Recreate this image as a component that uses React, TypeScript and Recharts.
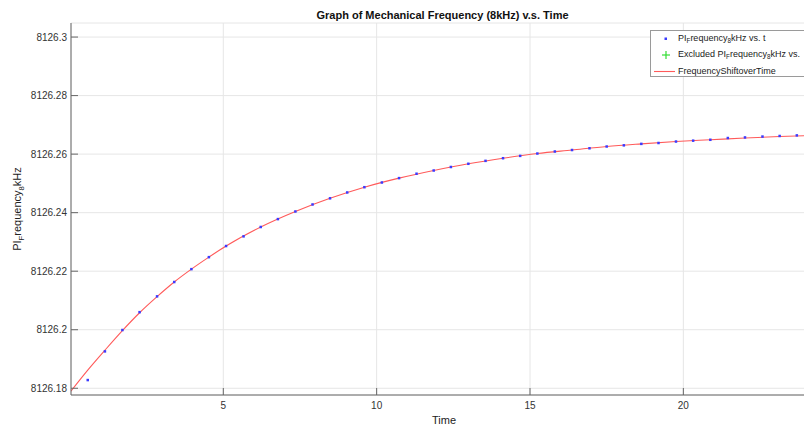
import React from 'react';
import { ComposedChart, Scatter, Line, XAxis, YAxis, CartesianGrid } from 'recharts';

const TIME = [
  0.58, 1.14, 1.71, 2.27, 2.84, 3.40, 3.96, 4.53, 5.09, 5.66, 6.22, 6.78, 7.35, 7.91,
  8.48, 9.04, 9.60, 10.17, 10.73, 11.30, 11.86, 12.42, 12.99, 13.55, 14.12, 14.68,
  15.24, 15.81, 16.37, 16.94, 17.50, 18.06, 18.63, 19.19, 19.76, 20.32, 20.88, 21.45,
  22.01, 22.58, 23.14, 23.70,
];
const PI_FREQ = [
  8126.1828, 8126.1926, 8126.1999, 8126.2060, 8126.2114, 8126.2163, 8126.2207, 8126.2248,
  8126.2286, 8126.2319, 8126.2351, 8126.2378, 8126.2404, 8126.2428, 8126.2449, 8126.2469,
  8126.2487, 8126.2503, 8126.2518, 8126.2533, 8126.2544, 8126.2556, 8126.2567, 8126.2577,
  8126.2586, 8126.2594, 8126.2602, 8126.2609, 8126.2614, 8126.2620, 8126.2626, 8126.2630,
  8126.2635, 8126.2638, 8126.2643, 8126.2646, 8126.2649, 8126.2655, 8126.2657, 8126.2660,
  8126.2662, 8126.2664,
];
const FIT_TIME = [
  0.03, 0.58, 1.14, 1.71, 2.27, 2.84, 3.40, 3.96, 4.53, 5.09, 6.22, 7.35, 8.48, 9.60,
  10.73, 11.86, 12.99, 14.12, 15.24, 16.37, 17.50, 18.63, 19.76, 20.88, 22.01, 23.14, 24.27,
];
const FIT_FREQ = [
  8126.1790, 8126.1862, 8126.1930, 8126.1997, 8126.2058, 8126.2113, 8126.2163, 8126.2207,
  8126.2248, 8126.2286, 8126.2351, 8126.2404, 8126.2449, 8126.2487, 8126.2518, 8126.2544,
  8126.2567, 8126.2586, 8126.2602, 8126.2614, 8126.2626, 8126.2635, 8126.2643, 8126.2649,
  8126.2655, 8126.2660, 8126.2664,
];
const X_TICKS = [5, 10, 15, 20];
const Y_TICKS = [8126.18, 8126.2, 8126.22, 8126.24, 8126.26, 8126.28, 8126.3];

const points = TIME.map((t, i) => ({ t, v: PI_FREQ[i] }));
const fit = FIT_TIME.map((t, i) => ({ t, v: FIT_FREQ[i] }));

const FONT = 'Arial, "Liberation Sans", Helvetica, sans-serif';

const DotShape = (props: any) => {
  const { cx, cy } = props;
  if (cx == null || cy == null) return null;
  return <rect x={cx - 1.25} y={cy - 1.25} width={2.5} height={2.5} fill="#3b3bff" />;
};

const sub = (s: string) => (
  <span style={{ fontSize: '0.7em', position: 'relative', top: '0.35em' }}>{s}</span>
);

export default function App() {
  const fmt = (v: number) => String(Number(v.toFixed(2)));
  return (
    <div style={{ position: 'absolute', left: 0, top: 0, width: 804, height: 425, overflow: 'hidden', background: '#fff', fontFamily: FONT }}>
      <ComposedChart width={814} height={425} margin={{ top: 23, right: 0, bottom: 0, left: 0 }}>
        <CartesianGrid stroke="#e6e6e6" strokeWidth={1} xAxisId="b" yAxisId="l" />
        <XAxis
          xAxisId="b"
          dataKey="t"
          type="number"
          domain={[0.034, 24.26]}
          ticks={X_TICKS}
          allowDataOverflow
          height={30}
          stroke="#666"
          tickSize={-7}
          tickMargin={14}
          tick={{ fill: '#333', fontSize: 10, fontFamily: FONT }}
        />
        <XAxis
          xAxisId="top"
          orientation="top"
          type="number"
          domain={[0.034, 24.26]}
          ticks={X_TICKS}
          allowDataOverflow
          height={0}
          stroke="#666"
          tickSize={-7}
          tick={false}
        />
        <YAxis
          yAxisId="l"
          type="number"
          domain={[8126.1777, 8126.3048]}
          ticks={Y_TICKS}
          allowDataOverflow
          width={71}
          stroke="#666"
          tickSize={-7}
          tickMargin={11}
          tickFormatter={fmt}
          tick={{ fill: '#333', fontSize: 10, fontFamily: FONT }}
        />
        <Scatter
          xAxisId="b"
          yAxisId="l"
          data={points}
          dataKey="v"
          shape={<DotShape />}
          isAnimationActive={false}
        />
        <Line
          xAxisId="b"
          yAxisId="l"
          data={fit}
          dataKey="v"
          type="monotone"
          stroke="#ff5a5a"
          strokeWidth={1.1}
          dot={false}
          activeDot={false}
          isAnimationActive={false}
        />
      </ComposedChart>

      <div style={{ position: 'absolute', left: 0, width: 885, top: 8, textAlign: 'center', fontSize: 11, fontWeight: 'bold', color: '#111', lineHeight: '14px' }}>
        Graph of Mechanical Frequency (8kHz) v.s. Time
      </div>

      <div style={{ position: 'absolute', left: 0, width: 888, top: 413, textAlign: 'center', fontSize: 11, color: '#222', lineHeight: '14px' }}>
        Time
      </div>

      <div style={{ position: 'absolute', left: 18, top: 209, width: 0, height: 0 }}>
        <div style={{ position: 'absolute', left: 0, top: 0, transform: 'translate(-50%, -50%) rotate(-90deg)', whiteSpace: 'nowrap', fontSize: 11, color: '#222', lineHeight: '14px' }}>
          PI{sub('F')}requency{sub('8')}kHz
        </div>
      </div>

      <div style={{ position: 'absolute', left: 650, top: 30, width: 162, height: 47, border: '1px solid #9a9a9a', background: '#fff', boxSizing: 'border-box' }}>
        <svg width={26} height={45} style={{ position: 'absolute', left: 0, top: 0 }}>
          <rect x={13.5} y={6.5} width={2.5} height={2.5} fill="#3b3bff" />
          <line x1={11} y1={24} x2={19} y2={24} stroke="#33dd33" strokeWidth={1.2} />
          <line x1={15} y1={20} x2={15} y2={28} stroke="#33dd33" strokeWidth={1.2} />
          <line x1={3} y1={40.5} x2={24} y2={40.5} stroke="#ff5a5a" strokeWidth={1.1} />
        </svg>
        <div style={{ position: 'absolute', left: 27, top: 1, fontSize: 9, lineHeight: '12px', color: '#222', whiteSpace: 'nowrap' }}>
          PI{sub('F')}requency{sub('8')}kHz vs. t
        </div>
        <div style={{ position: 'absolute', left: 27, top: 17, fontSize: 9, lineHeight: '12px', color: '#222', whiteSpace: 'nowrap' }}>
          Excluded PI{sub('F')}requency{sub('8')}kHz vs.
        </div>
        <div style={{ position: 'absolute', left: 27, top: 34, fontSize: 9, lineHeight: '12px', color: '#222', whiteSpace: 'nowrap' }}>
          FrequencyShiftoverTime
        </div>
      </div>
    </div>
  );
}
